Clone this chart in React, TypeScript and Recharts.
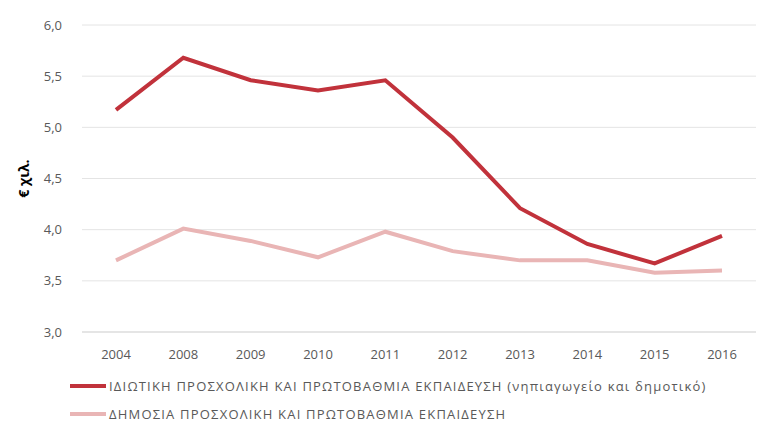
import * as React from "react";
import { LineChart, Line, XAxis, YAxis, CartesianGrid, Label } from "recharts";

const years = ["2004", "2008", "2009", "2010", "2011", "2012", "2013", "2014", "2015", "2016"];
const privateValues = [5.17, 5.68, 5.46, 5.36, 5.46, 4.9, 4.21, 3.86, 3.67, 3.94];
const publicValues = [3.7, 4.01, 3.89, 3.73, 3.98, 3.79, 3.7, 3.7, 3.58, 3.6];
const yTicks = [3.0, 3.5, 4.0, 4.5, 5.0, 5.5, 6.0];

const privateName = "ΙΔΙΩΤΙΚΗ ΠΡΟΣΧΟΛΙΚΗ ΚΑΙ ΠΡΩΤΟΒΑΘΜΙΑ ΕΚΠΑΙΔΕΥΣΗ (νηπιαγωγείο και δημοτικό)";
const publicName = "ΔΗΜΟΣΙΑ ΠΡΟΣΧΟΛΙΚΗ ΚΑΙ ΠΡΩΤΟΒΑΘΜΙΑ ΕΚΠΑΙΔΕΥΣΗ";

const data = years.map((y, i) => ({ year: y, priv: privateValues[i], pub: publicValues[i] }));

const FONT = "'Open Sans', sans-serif";
const DARK = "#c1323b";
const LIGHT = "#e9b5b5";

// legend drawn as plain html under the plot
const LegendBox = () => (
  <div
    style={{
      position: "absolute",
      left: 70,
      top: 372,
      fontFamily: FONT,
      fontSize: 13,
      letterSpacing: 1.2,
      color: "#595959",
    }}
  >
    {[
      { name: privateName, color: DARK },
      { name: publicName, color: LIGHT },
    ].map((it) => (
      <div key={it.name} style={{ display: "flex", alignItems: "center", height: 28, whiteSpace: "nowrap" }}>
        <span style={{ display: "inline-block", width: 36, height: 4, background: it.color, marginRight: 3 }} />
        <span>{it.name}</span>
      </div>
    ))}
  </div>
);

export default function App() {
  return (
    <div style={{ position: "absolute", left: 0, top: 0, width: 776, height: 430, background: "#fff" }}>
      <LineChart width={776} height={430} data={data} margin={{ top: 25, right: 20, bottom: 68, left: 30 }}>
        <CartesianGrid horizontal vertical={false} stroke="#e4e4e4" />
        <XAxis
          dataKey="year"
          padding={{ left: 34, right: 34 }}
          tickLine={false}
          axisLine={{ stroke: "#d9d9d9" }}
          tick={{ fill: "#595959", fontSize: 13, fontFamily: FONT }}
          tickMargin={12}
        />
        <YAxis
          width={52}
          domain={[3, 6]}
          ticks={yTicks}
          tickLine={false}
          axisLine={false}
          tickFormatter={(v: number) => v.toFixed(1).replace(".", ",")}
          tick={{ fill: "#595959", fontSize: 13, fontFamily: FONT }}
          tickMargin={14}
        >
          <Label
            value="€ χιλ."
            angle={-90}
            position="insideLeft"
            offset={-6}
            style={{ fill: "#000", fontSize: 14, fontWeight: 700, fontFamily: FONT, textAnchor: "middle" }}
          />
        </YAxis>
        <Line dataKey="priv" name={privateName} stroke={DARK} strokeWidth={4} dot={false} isAnimationActive={false} />
        <Line dataKey="pub" name={publicName} stroke={LIGHT} strokeWidth={4} dot={false} isAnimationActive={false} />
      </LineChart>
      <LegendBox />
    </div>
  );
}
